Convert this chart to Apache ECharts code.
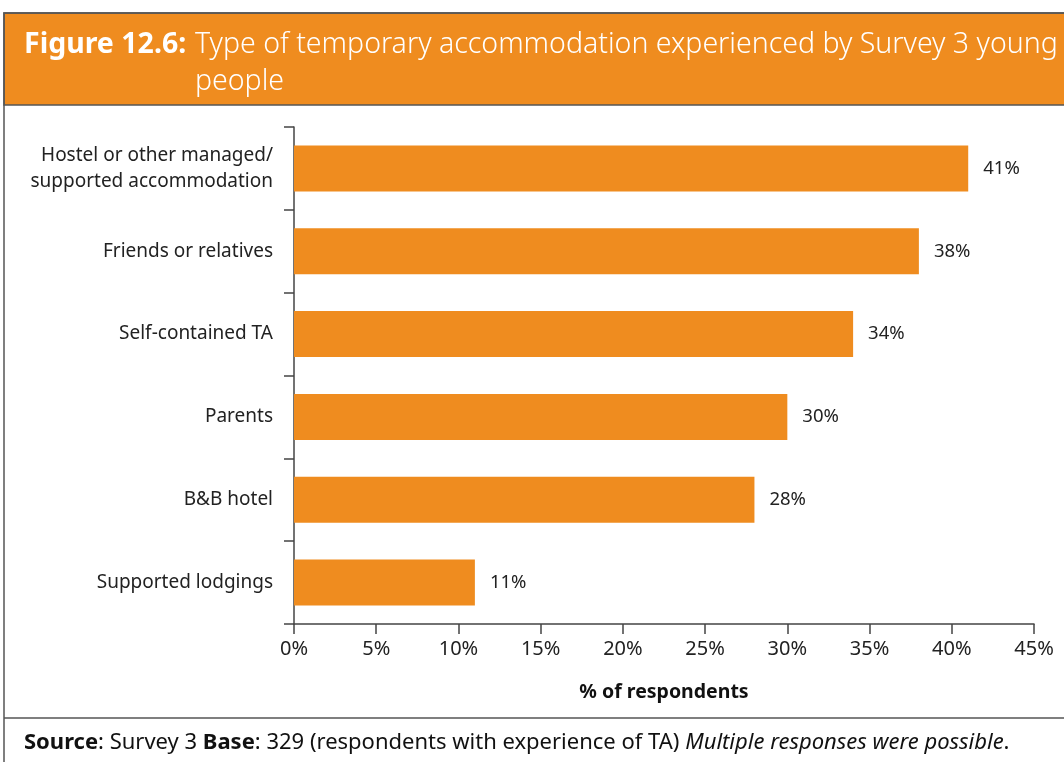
<!DOCTYPE html>
<html>
<head>
<meta charset="utf-8">
<script src="https://cdn.jsdelivr.net/npm/echarts@6/dist/echarts.min.js"></script>
<style>
  html, body { margin: 0; padding: 0; background: #fff; }
  #chart { width: 1064px; height: 762px; }
</style>
</head>
<body>
<div id="chart"></div>
<script>
var categories = ['Hostel or other managed/\nsupported accommodation', 'Friends or relatives',
    'Self-contained TA', 'Parents', 'B&B hotel', 'Supported lodgings'];
var values = [41, 38, 34, 30, 28, 11];
var tickMax = 45;
var tickStep = 5;

var orange = '#EF8C1F';
var frame = '#555555';
var font = 'Noto Sans';

var myChart = echarts.init(document.getElementById('chart'));

var option = {
    backgroundColor: '#ffffff',
    textStyle: { fontFamily: font },
    graphic: [
        // header band
        { type: 'rect', shape: { x: 4, y: 13, width: 1062, height: 92 },
          style: { fill: orange, stroke: frame, lineWidth: 1.5 }, z: 0 },
        // outer frame
        { type: 'rect', shape: { x: 4, y: 13, width: 1062, height: 752 },
          style: { fill: 'none', stroke: frame, lineWidth: 1.5 }, z: 0 },
        // footer separator
        { type: 'line', shape: { x1: 4, y1: 718, x2: 1064, y2: 718 },
          style: { stroke: frame, lineWidth: 1.5 } },
        { type: 'text', left: 24, top: 26,
          style: { text: 'Figure 12.6:', fill: '#fff', font: 'bold 28.5px "Noto Sans"', lineHeight: 37 } },
        { type: 'text', left: 195, top: 26,
          style: { text: 'Type of temporary accommodation experienced by Survey 3 young\npeople',
                   fill: '#fff', font: '300 28.5px "Noto Sans"', lineHeight: 37 } },
        { type: 'text', left: 24, top: 732,
          style: {
              text: '{b|Source}: Survey 3 {b|Base}: 329 (respondents with experience of TA) {i|Multiple responses were possible}.',
              fill: '#111', font: '22px "Noto Sans"',
              rich: {
                  b: { fontWeight: 'bold', fontSize: 22, fontFamily: font, fill: '#111' },
                  i: { fontStyle: 'italic', fontSize: 22, fontFamily: font, fill: '#111' }
              }
          } }
    ],
    grid: { left: 294, right: 30, top: 127, bottom: 138, containLabel: false },
    xAxis: {
        type: 'value',
        min: 0,
        max: tickMax,
        interval: tickStep,
        name: '% of respondents',
        nameLocation: 'middle',
        nameGap: 58,
        nameTextStyle: { fontWeight: 'bold', fontSize: 19.5, color: '#111' },
        axisLine: { show: true, lineStyle: { color: '#444', width: 1.5 } },
        axisTick: { show: true, length: 10, lineStyle: { color: '#444', width: 1.5 } },
        axisLabel: { formatter: '{value}%', fontSize: 20, color: '#222', margin: 15 },
        splitLine: { show: false }
    },
    yAxis: {
        type: 'category',
        inverse: true,
        data: categories,
        axisLine: { show: true, lineStyle: { color: '#444', width: 1.5 } },
        axisTick: { show: true, length: 10, lineStyle: { color: '#444', width: 1.5 } },
        axisLabel: { fontSize: 19, color: '#222', margin: 21, align: 'right', lineHeight: 26 }
    },
    series: [{
        type: 'bar',
        data: values,
        barWidth: 46,
        itemStyle: { color: orange },
        label: {
            show: true,
            position: 'right',
            distance: 15,
            formatter: '{c}%',
            fontSize: 18.5,
            color: '#222'
        }
    }]
};

myChart.setOption(option);
window.addEventListener('resize', function () {
    myChart.resize();
});
</script>
</body>
</html>
